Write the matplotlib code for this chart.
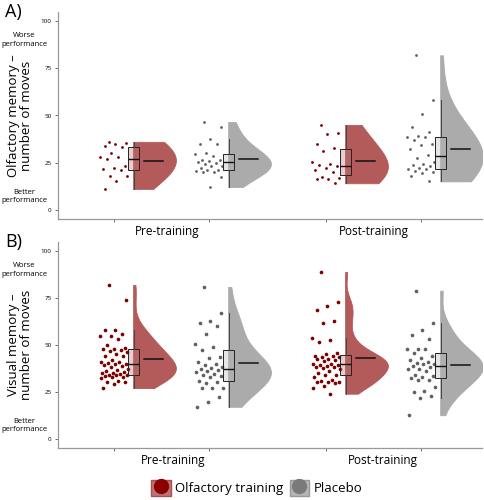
#!/usr/bin/env python3
"""Raincloud plots: olfactory vs visual memory, olfactory training vs placebo."""

import numpy as np
import matplotlib
matplotlib.use("Agg")
import matplotlib.pyplot as plt
from matplotlib.patches import Patch
from matplotlib.lines import Line2D
from matplotlib.legend_handler import HandlerTuple

plt.rcParams["font.family"] = ["Open Sans", "DejaVu Sans"]

# --- data (number of moves) ---
sessions = ["Pre-training", "Post-training"]
groups = ["Olfactory training", "Placebo"]

olf_pre_training = [36, 35.5, 35, 34, 33, 30, 28, 28, 27, 23, 22, 21.5, 21, 18, 18, 15, 11]
olf_pre_placebo = [46.5, 44, 37.5, 35, 35, 30, 29.5, 28.5, 26.5, 26.5, 26, 25.5, 25, 24,
                   23, 23, 22, 21, 21, 20.5, 20, 20, 17.5, 12]
olf_post_training = [45, 40.5, 40, 35, 32.5, 31, 25.5, 24, 23.5, 23, 22, 21, 20, 17.5, 17,
                     16.5, 16, 14]
olf_post_placebo = [82, 58, 51, 44, 41, 39, 38.5, 38.5, 37, 35, 34.5, 32, 29, 27.5, 25.5, 24,
                    23.5, 23, 22, 21.5, 21.5, 20.5, 20, 19.5, 18, 15]

vis_pre_training = [82, 74, 58, 58, 56, 55, 55, 53, 50, 48.5, 48, 48, 47.5, 47, 46, 45, 44, 44,
                    42, 41, 41, 40.5, 40, 40, 39.5, 39, 38, 37, 36.5, 36, 35.5, 35, 35, 34.5,
                    34, 34, 34, 33.5, 33, 33, 32.5, 31, 30, 30, 29, 27]
vis_pre_placebo = [81, 67, 63, 61.5, 60, 56, 50.5, 49, 47.5, 43.5, 43, 41, 40, 39.5, 38, 37.5,
                   37, 36.5, 36, 35.5, 34.5, 34, 33.5, 33, 31, 30, 29.5, 27, 27, 27, 22, 19.5, 17]
vis_post_training = [89, 73, 71, 68.5, 63, 62, 53.5, 52.5, 51.5, 45.5, 45, 44, 44, 43.5, 43.5,
                     42.5, 42.5, 42, 41.5, 40, 40, 39.5, 39.5, 39, 38.5, 38, 37.5, 37, 36, 35,
                     34, 34, 33, 31.5, 31, 30, 30, 30, 29.5, 28, 27, 24]
vis_post_placebo = [79, 61.5, 58, 55.5, 53, 48, 48, 48, 45.5, 44, 43, 42, 41, 40.5, 40, 40, 39,
                    38.5, 37, 37, 36, 34, 33.5, 33, 32.5, 31.5, 31.5, 27.5, 25.5, 25, 23, 21.5, 12.5]

y_ticks = [0, 25, 50, 75, 100]

# --- styling ---
VIOLIN = ["#b35a5a", "#ababab"]
POINT = ["#7b0000", "#616161"]
BOXFILL = [(0.75, 0.45, 0.45, 0.35), (0.72, 0.72, 0.72, 0.35)]
POS = [1.0, 2.0, 3.23, 4.23]
W = 484
H = 500


def half_kde(vals, n=200, adjust=1.0):
    v = np.asarray(vals, dtype=float)
    sd = v.std(ddof=1)
    q75, q25 = np.percentile(v, [75, 25])
    bw = 0.9 * min(sd, (q75 - q25) / 1.34) * len(v) ** -0.2 * adjust
    ys = np.linspace(v.min(), v.max(), n)
    dens = np.exp(-0.5 * ((ys[:, None] - v[None, :]) / bw) ** 2).sum(axis=1)
    return ys, dens / dens.max()


def raincloud(ax, pos, vals, k, msize, adjust):
    vals = np.asarray(vals, dtype=float)
    # deterministic horizontal spread for the rain
    jit = ((np.arange(len(vals)) * 0.6180339887 + 0.31) % 1.0 - 0.5) * 0.3
    ax.scatter(pos + jit, vals, s=msize, color=POINT[k], lw=0, zorder=2)

    ys, d = half_kde(vals, adjust=adjust)
    x0 = pos + 0.2
    ax.fill_betweenx(ys, x0, x0 + 0.45 * d, color=VIOLIN[k], lw=0.6,
                     edgecolor=VIOLIN[k], zorder=3)

    bp = ax.boxplot([vals], positions=[pos + 0.205], widths=0.115, patch_artist=True,
                    showfliers=False, whis=1.5, manage_ticks=False, zorder=4)
    for b in bp["boxes"]:
        b.set_facecolor(BOXFILL[k])
        b.set_edgecolor("#222222")
        b.set_linewidth(0.7)
    for m in bp["medians"]:
        m.set_color("#111111")
        m.set_linewidth(1.0)
    for w in bp["whiskers"]:
        w.set_color("#444444")
        w.set_linewidth(0.7)
    for c in bp["caps"]:
        c.set_visible(False)

    ax.plot([pos + 0.31, pos + 0.51], [vals.mean()] * 2, color="#111111", lw=1.1, zorder=5)


def panel(ax, datasets, ylabel, letter, msize, adjust, label_x):
    for i, vals in enumerate(datasets):
        raincloud(ax, POS[i], vals, i % 2, msize, adjust)

    ax.set_xlim(0.41, 4.87)
    ax.set_ylim(-5, 105)
    ax.set_yticks(y_ticks)
    ax.set_xticks(POS)
    ax.set_xticklabels([])
    ax.tick_params(axis="both", length=2.5, width=0.6, color="#555555",
                   labelsize=4.5, pad=2)
    for side in ["top", "right"]:
        ax.spines[side].set_visible(False)
    for side in ["left", "bottom"]:
        ax.spines[side].set_color("#999999")
        ax.spines[side].set_linewidth(0.9)

    for name, lx in zip(sessions, label_x):
        ax.text(lx, -0.06, name, transform=ax.get_xaxis_transform(), ha="center",
                va="center", fontsize=8.5)

    ax.text(-0.0896, 0.5, ylabel, transform=ax.transAxes, rotation=90, ha="center",
            va="center", fontsize=9.5, linespacing=1.05)
    yt = ax.get_yaxis_transform()
    ax.text(-0.08, 90, "Worse\nperformance", transform=yt, ha="center", va="center",
            fontsize=5.5, linespacing=1.3)
    ax.text(-0.08, 7, "Better\nperformance", transform=yt, ha="center", va="center",
            fontsize=5.5, linespacing=1.3)
    ax.text(-0.125, 1.0, letter, transform=ax.transAxes, ha="left", va="center",
            fontsize=13)


fig = plt.figure(figsize=(W / 100, H / 100), dpi=100)
ax_a = fig.add_axes([58 / W, 1 - 219 / H, 424 / W, 207 / H])
ax_b = fig.add_axes([58 / W, 1 - 448 / H, 424 / W, 206 / H])

panel(ax_a, [olf_pre_training, olf_pre_placebo, olf_post_training, olf_post_placebo],
      "Olfactory memory \u2013\nnumber of moves", "A)", 4, 2.2, [1.56, 3.73])
panel(ax_b, [vis_pre_training, vis_pre_placebo, vis_post_training, vis_post_placebo],
      "Visual memory \u2013\nnumber of moves", "B)", 7, 1.5, [1.62, 3.83])

handles = [
    (Patch(facecolor="#c07272", edgecolor="#a05555"),
     Line2D([], [], ls="", marker="o", markersize=10, color="#8b0000")),
    (Patch(facecolor="#b5b5b5", edgecolor="#999999"),
     Line2D([], [], ls="", marker="o", markersize=10, color="#7a7a7a")),
]
fig.legend(handles, groups, loc="center", bbox_to_anchor=(0.53, 1 - 488 / H), ncol=2,
           frameon=False, handlelength=1.5, handleheight=1.5, fontsize=9.5,
           handletextpad=0.3, columnspacing=0.5,
           handler_map={tuple: HandlerTuple(ndivide=1, pad=0)})

fig.savefig("out.png", dpi=100)
plt.close(fig)
